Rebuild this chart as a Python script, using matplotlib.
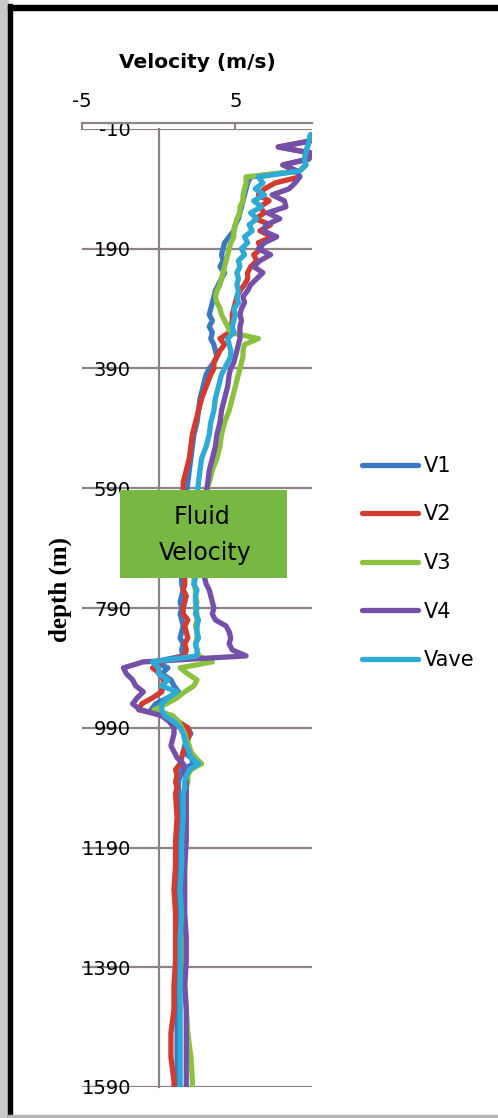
import matplotlib
matplotlib.use("Agg")
import matplotlib.pyplot as plt
from matplotlib.patches import Rectangle

plt.rcParams["axes.unicode_minus"] = False

# depth samples (m) shared by all velocity series
depth = [
    0, 10, 20, 30, 40, 50, 60, 70, 80, 90,
    100, 110, 120, 130, 140, 150, 160, 170, 180, 190,
    200, 210, 220, 230, 240, 250, 260, 270, 280, 290,
    300, 310, 320, 330, 340, 350, 360, 370, 380, 390,
    400, 420, 440, 460, 480, 500, 520, 540, 560, 580,
    600, 620, 660, 700, 740, 750, 760, 770, 780, 790,
    800, 810, 820, 830, 840, 850, 860, 870, 880, 890,
    900, 910, 920, 930, 940, 950, 960, 970, 980, 990,
    1000, 1010, 1020, 1030, 1040, 1050, 1060, 1070, 1080, 1090,
    1100, 1140, 1180, 1220, 1260, 1300, 1340, 1380, 1420, 1460,
    1500, 1540, 1580, 1590,
]

v1 = [
    9.9, 9.8, 9.7, 9.6, 9.5, 9.6, 9.2, 6.0, 5.8, 5.7,
    5.6, 5.5, 5.4, 5.3, 5.2, 5.0, 4.9, 4.6, 4.3, 4.2,
    4.1, 4.2, 4.0, 4.3, 4.1, 3.9, 3.7, 3.6, 3.5, 3.4,
    3.3, 3.5, 3.3, 3.5, 3.4, 3.6, 3.7, 3.8, 3.6, 3.3,
    3.1, 2.9, 2.7, 2.6, 2.5, 2.3, 2.2, 2.1, 2.0, 1.9,
    1.8, 1.7, 1.6, 1.6, 1.5, 1.5, 1.6, 1.5, 1.4, 1.5,
    1.4, 1.5, 1.6, 1.5, 1.4, 1.6, 1.5, 1.6, -0.3, 0.6,
    0.2, 0.8, 1.0, 1.3, 0.6, -0.2, -0.5, 0.9, 1.3, 1.9,
    2.1, 1.8, 1.7, 1.6, 2.1, 2.3, 1.5, 1.4, 1.3, 1.3,
    1.3, 1.3, 1.3, 1.3, 1.2, 1.3, 1.3, 1.2, 1.2, 1.2,
    1.2, 1.2, 1.2, 1.2,
]

v2 = [
    10.0, 9.9, 7.8, 9.9, 9.8, 8.1, 9.0, 9.2, 7.6, 6.9,
    6.5, 7.2, 6.6, 6.9, 6.3, 7.3, 6.6, 7.4, 6.5, 6.7,
    6.2, 6.4, 6.0, 5.8, 5.8, 5.6, 5.3, 5.1, 5.0, 4.9,
    4.8, 4.8, 4.7, 4.6, 4.0, 4.3, 4.0, 3.8, 3.6, 3.6,
    3.4, 3.1, 2.8, 2.6, 2.4, 2.2, 2.1, 2.0, 1.8, 1.6,
    1.6, 1.6, 1.7, 1.7, 1.7, 1.7, 1.6, 1.8, 1.7, 1.6,
    1.6, 1.9, 1.7, 1.8, 1.9, 1.7, 1.8, 1.7, 0.2, -0.4,
    0.1, 0.3, 0.3, 0.2, -0.4, -1.1, -1.3, 0.5, 1.2, 1.9,
    2.0, 1.9, 1.9, 1.6, 1.5, 1.4, 1.1, 1.2, 1.1, 1.2,
    1.1, 1.2, 1.1, 1.1, 1.0, 1.1, 1.1, 1.1, 1.0, 1.0,
    0.8, 0.8, 1.0, 1.0,
]

v3 = [
    9.9, 9.8, 9.7, 9.6, 9.5, 9.6, 9.2, 5.7, 5.7, 5.6,
    5.5, 5.5, 5.3, 5.3, 5.1, 5.0, 4.9, 4.9, 4.7, 4.6,
    4.5, 4.4, 4.3, 4.2, 4.1, 4.0, 3.8, 3.7, 3.8, 4.0,
    4.1, 4.3, 4.5, 4.7, 6.5, 5.6, 5.5, 5.5, 5.4, 5.3,
    5.2, 5.0, 4.8, 4.6, 4.3, 4.1, 4.0, 3.8, 3.5, 3.3,
    3.0, 2.8, 2.6, 2.5, 2.3, 2.3, 2.4, 2.4, 2.5, 2.4,
    2.5, 2.5, 2.4, 2.5, 2.5, 2.4, 2.5, 2.6, 3.5, 1.4,
    1.9, 2.5, 2.3, 1.7, 1.2, 0.5, -0.3, 0.9, 1.3, 1.5,
    1.7, 1.8, 2.0, 2.1, 2.4, 2.8, 2.1, 1.9, 1.9, 1.8,
    1.8, 1.8, 1.7, 1.7, 1.6, 1.6, 1.7, 1.7, 1.7, 1.8,
    1.9, 2.1, 2.2, 2.2,
]

v4 = [
    10.0, 9.9, 7.8, 9.9, 9.8, 8.1, 9.0, 9.2, 8.9, 8.5,
    7.4, 8.2, 8.3, 7.1, 7.9, 7.0, 6.8, 7.7, 6.9, 6.5,
    7.3, 6.6, 6.2, 6.8, 6.4, 6.0, 5.8, 5.5, 5.6, 5.4,
    5.3, 5.4, 5.3, 5.3, 5.3, 5.2, 5.1, 5.0, 4.9, 4.7,
    4.6, 4.5, 4.3, 4.1, 4.0, 3.8, 3.7, 3.5, 3.3, 3.2,
    3.1, 3.0, 3.0, 3.0, 3.0, 3.1, 3.3, 3.4, 3.5, 3.6,
    3.5, 3.7, 4.4, 4.6, 4.7, 4.6, 4.8, 5.7, -1.0, -2.3,
    -2.1, -1.7, -1.5, -1.0, -1.4, -1.7, -1.2, 0.2, 0.7, 1.0,
    1.0, 0.9, 0.8, 1.0, 1.2, 1.6, 1.7, 1.7, 1.8, 1.8,
    1.8, 1.8, 1.8, 1.7, 1.7, 1.7, 1.8, 1.8, 1.7, 1.8,
    1.8, 1.8, 1.8, 1.8,
]

vave = [
    9.9, 9.8, 9.7, 9.6, 9.5, 9.6, 9.2, 6.5, 6.8, 6.3,
    6.9, 6.2, 6.7, 6.0, 6.4, 5.9, 6.1, 5.6, 5.8, 5.4,
    5.6, 5.2, 5.3, 5.1, 5.2, 5.1, 5.2, 5.1, 5.2, 4.9,
    5.0, 4.9, 4.8, 4.9, 4.5, 4.6, 4.7, 4.7, 4.5, 4.3,
    4.1, 3.9, 3.7, 3.6, 3.4, 3.3, 3.1, 2.8, 2.7, 2.6,
    2.5, 2.4, 2.4, 2.4, 2.4, 2.3, 2.5, 2.4, 2.4, 2.5,
    2.4, 2.6, 2.5, 2.5, 2.6, 2.4, 2.5, 2.5, -0.4, 0.0,
    0.0, 0.6, 0.2, 1.2, 0.6, 0.2, 0.2, 0.4, 1.0, 1.4,
    1.6, 1.7, 1.8, 2.0, 2.1, 2.6, 2.0, 1.8, 1.7, 1.7,
    1.6, 1.6, 1.5, 1.5, 1.4, 1.5, 1.4, 1.4, 1.4, 1.4,
    1.4, 1.4, 1.4, 1.4,
]

names = ["V1", "V2", "V3", "V4", "Vave"]
series = [v1, v2, v3, v4, vave]
colors = ["#3b78c3", "#d33b30", "#8cc140", "#7450a8", "#2eaad6"]

depth_ticks = [-10, 190, 390, 590, 790, 990, 1190, 1390, 1590]
vel_ticks = [-5, 5]

W, H = 498, 1118
GRID = "#8c8482"

fig = plt.figure(figsize=(W / 100, H / 100), dpi=100)
ax = fig.add_axes([82 / W, 1 - 1087 / H, 230 / W, 958 / H])

for name, vals, col in zip(names, series, colors):
    ax.plot(vals, depth, color=col, lw=3.8, label=name,
            solid_joinstyle="round", solid_capstyle="round", zorder=3)

ax.set_xlim(-5, 10)
ax.set_ylim(1590, -10)
ax.set_yticks(depth_ticks)
ax.set_xticks(vel_ticks)
ax.set_xticklabels([str(t) for t in vel_ticks])
ax.xaxis.tick_top()

ax.spines["left"].set_position(("data", 0))
ax.spines["left"].set_color(GRID)
ax.spines["left"].set_linewidth(1.6)
ax.spines["top"].set_position(("outward", 4))
ax.spines["top"].set_color(GRID)
ax.spines["top"].set_linewidth(1.6)
ax.spines["right"].set_visible(False)
ax.spines["bottom"].set_visible(False)

ax.tick_params(axis="y", length=0, pad=20, labelsize=14)
ax.tick_params(axis="x", direction="in", length=5, width=1.5,
               color=GRID, pad=9, labelsize=14)
ax.grid(axis="y", color=GRID, lw=1.6)
ax.set_axisbelow(True)

fig.text(197 / W, 1 - 63 / H, "Velocity (m/s)", ha="center", va="center",
         fontsize=14.5, fontweight="bold")
fig.text(60 / W, 1 - 589 / H, "depth (m)", rotation=90, ha="center",
         va="center", fontsize=18, fontweight="bold",
         family="Liberation Serif")

# green "Fluid Velocity" label box
fig.add_artist(Rectangle((120 / W, 1 - 578 / H), 167 / W, 88 / H,
                         transform=fig.transFigure, facecolor="#77b843",
                         edgecolor="none", zorder=5))
fig.text(202 / W, 1 - 517 / H, "Fluid", ha="center", va="center",
         fontsize=17, zorder=6)
fig.text(205 / W, 1 - 553 / H, "Velocity", ha="center", va="center",
         fontsize=17, zorder=6)

fig.legend(loc="center left", bbox_to_anchor=(362 / W, 1 - 563 / H),
           frameon=False, fontsize=15, handlelength=2.7,
           handletextpad=0.25, labelspacing=1.37, borderpad=0,
           borderaxespad=0)

# frame around the pasted chart
fig.add_artist(Rectangle((0, 0), 8 / W, 1, transform=fig.transFigure,
                         color="#c9c9c9", zorder=0))
fig.add_artist(Rectangle((8 / W, 0), 4 / W, 1 - 4 / H,
                         transform=fig.transFigure, color="black", zorder=7))
fig.add_artist(Rectangle((8 / W, 1 - 10 / H), 1, 5 / H,
                         transform=fig.transFigure, color="black", zorder=7))
fig.add_artist(Rectangle((8 / W, 0), 1, 3 / H, transform=fig.transFigure,
                         color="#b5b5b5", zorder=7))

fig.savefig("out.png", dpi=100)
